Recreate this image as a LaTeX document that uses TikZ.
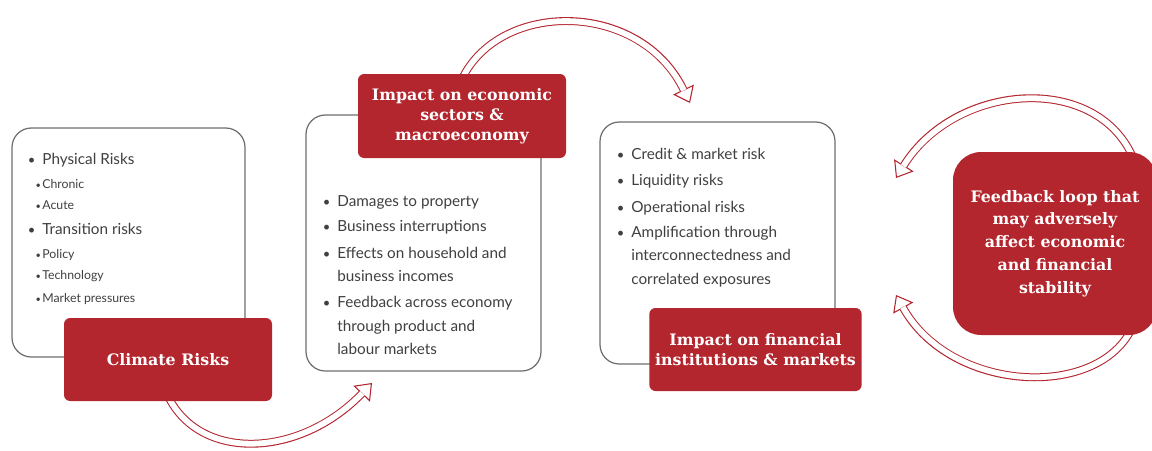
\documentclass[tikz,border=0pt]{standalone}
\usepackage{fontspec}
\setmainfont{Lato}
\newfontfamily\headfont{DejaVu Serif}
\usetikzlibrary{positioning, backgrounds, arrows.meta}

\definecolor{riskred}{HTML}{B3262E}
\definecolor{framegray}{HTML}{6E6E6E}
\definecolor{bodygray}{HTML}{404040}

\newcommand{\px}{0.02cm}
\newcommand{\bul}{\llap{\scalebox{0.85}{\textbullet}\hspace{4pt}}}
\newcommand{\subbul}{\llap{\scalebox{0.75}{\textbullet}\hspace{0.8pt}}}

\begin{document}
\begin{tikzpicture}[x=0.02cm, y=-0.02cm,
	panel/.style={draw=framegray, line width=0.7pt, rounded corners=11pt, fill=white},
	head/.style={fill=riskred, text=white, rounded corners=3.5pt, align=center,
		font=\headfont\bfseries\fontsize{9}{11.3}\selectfont},
	item/.style={anchor=west, inner sep=0pt, text=bodygray, text height=1.5ex, text depth=0.3ex,
		font=\fontsize{8.7}{10}\selectfont},
	subitem/.style={item, font=\fontsize{7}{8}\selectfont},
	hollow/.style={draw=riskred, line width=4.5pt,
		-{Triangle[open, fill=white, line width=0.6pt, length=8.5pt, width=13pt]},
		postaction={draw=white, line width=3.3pt, shorten >=8pt, -}}]
	\clip (0,0) rectangle (1152,450);
	% white panels
	\node[panel, minimum width=233*\px, minimum height=229*\px] (risks) at (128.5,242.5) {};
	\node[panel, minimum width=235*\px, minimum height=256*\px] (econ) at (423.5,243) {};
	\node[panel, minimum width=235*\px, minimum height=242*\px] (finance) at (717.5,243) {};
	% red headings
	\node[head, minimum width=208*\px, minimum height=83*\px] (clim) at (168,359.5) {Climate Risks};
	\node[head, minimum width=208*\px, minimum height=84*\px] (eco) at (462,116) {Impact on economic\\ sectors \&\\ macroeconomy};
	\node[head, minimum width=209*\px, minimum height=83*\px] (fin) at (755.5,349.5) {Impact on financial\\ institutions \& markets};
	\node[head, rounded corners=16pt, minimum width=204*\px, minimum height=183*\px,
		font=\headfont\bfseries\fontsize{9}{13}\selectfont] (fb) at (1055,243.5)
		{Feedback loop that\\ may adversely\\ affect economic\\ and financial\\ stability};
	% list texts
	\foreach \y/\t [count=\i] in {159/Physical Risks, 229/Transition risks}
		\node[item] (risk\i) at (42,\y) {\bul\t};
	\foreach \y/\t [count=\i] in {183/Chronic, 204/Acute, 253/Policy, 274/Technology, 297/Market pressures}
		\node[subitem] (sub\i) at (42,\y) {\subbul\t};
	\foreach \y/\t [count=\i] in {201/\bul Damages to property, 226/\bul Business interruptions,
		253/\bul Effects on household and, 276/business incomes, 302/\bul Feedback across economy,
		326/through product and, 349/labour markets}
		\node[item] (eff\i) at (337,\y) {\t};
	\foreach \y/\t [count=\i] in {154/\bul Credit \& market risk, 180/\bul Liquidity risks,
		207/\bul Operational risks, 232/\bul Amplification through, 255/interconnectedness and,
		279/correlated exposures}
		\node[item] (fr\i) at (631,\y) {\t};
	% hollow arrows
	\coordinate (botend) at (372,383);
	\coordinate (topend) at (690,103);
	\coordinate (fbtopend) at (896,178);
	\coordinate (fbbotend) at (896,295);
	\begin{scope}[on background layer]
		\draw[hollow] ([yshift=3pt]clim.south) .. controls (200,462) and (300,458) .. (botend);
		\draw[hollow] ([yshift=-3pt]eco.north) .. controls (500,0) and (640,0) .. (topend);
		\draw[hollow] ([xshift=-14pt, yshift=-3pt]fb.north east) .. controls (1095,72) and (955,83) .. (fbtopend);
		\draw[hollow] ([xshift=-15pt, yshift=3pt]fb.south east) .. controls (1095,400) and (950,392) .. (fbbotend);
	\end{scope}
\end{tikzpicture}
\end{document}
